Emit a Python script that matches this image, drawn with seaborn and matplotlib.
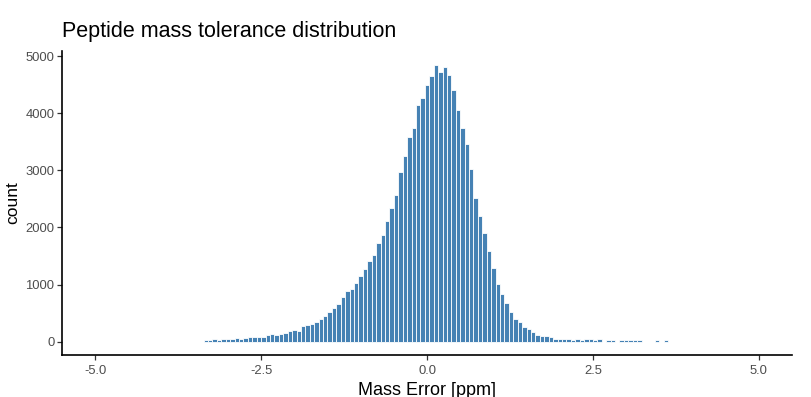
import numpy as np
import pandas as pd
import seaborn as sns
import matplotlib.pyplot as plt

# histogram counts, one per bin of width 1/15 ppm
bin_width = 1 / 15
bin_index = np.arange(-50, 55)
counts = [
    25, 25, 40, 25, 40, 54, 54, 72, 54, 72,
    89, 89, 89, 89, 124, 142, 124, 142, 159, 194,
    211, 194, 281, 298, 316, 351, 403, 455, 525, 595,
    664, 787, 891, 926, 1031, 1153, 1275, 1414, 1519, 1728,
    1867, 2111, 2338, 2564, 2965, 3244, 3575, 3732, 4151, 4273,
    4499, 4656, 4848, 4726, 4813, 4673, 4412, 4063, 3732, 3453,
    3018, 2512, 2198, 1902, 1588, 1292, 1013, 839, 682, 525,
    403, 351, 264, 229, 176, 124, 107, 107, 89, 54,
    54, 40, 54, 25, 40, 25, 40, 40, 25, 40,
    0, 25, 25, 0, 25, 25, 25, 25, 25, 0,
    0, 0, 25, 0, 25,
]

x_ticks = [-5.0, -2.5, 0.0, 2.5, 5.0]
y_ticks = [0, 1000, 2000, 3000, 4000, 5000]

hist = pd.DataFrame({"mass_error": bin_index * bin_width, "count": counts})
bin_lo = hist["mass_error"].min() - bin_width / 2
bin_hi = hist["mass_error"].max() + bin_width / 2

sns.set_theme(style="white")
plt.rcParams["font.family"] = ["Liberation Sans", "DejaVu Sans"]

fig = plt.figure(figsize=(8.12, 3.97), dpi=100)
ax = fig.add_axes([0.0764, 0.1058, 0.899, 0.766])

sns.histplot(
    data=hist,
    x="mass_error",
    weights="count",
    binwidth=bin_width,
    binrange=(bin_lo, bin_hi),
    color="steelblue",
    edgecolor="white",
    linewidth=0.6,
    alpha=1,
    ax=ax,
)

ax.set_xlim(-5.5, 5.5)
ax.set_ylim(-234, 5090)
ax.set_xticks(x_ticks)
ax.set_xticklabels([f"{t:.1f}" for t in x_ticks])
ax.set_yticks(y_ticks)

for side in ["top", "right"]:
    ax.spines[side].set_visible(False)
for side in ["left", "bottom"]:
    ax.spines[side].set_color("black")
    ax.spines[side].set_linewidth(1.2)

ax.tick_params(axis="both", length=3.5, width=0.9, color="#333333",
               labelsize=9.4, labelcolor="#4D4D4D", bottom=True, left=True, pad=2)
ax.tick_params(axis="x", pad=4)

ax.set_xlabel("Mass Error [ppm]", fontsize=13, color="black", labelpad=3)
ax.set_ylabel("count", fontsize=12.5, color="black", labelpad=4)
ax.set_title("Peptide mass tolerance distribution", loc="left", fontsize=15.5,
             color="black", pad=10)

fig.savefig("out.png", dpi=100)
